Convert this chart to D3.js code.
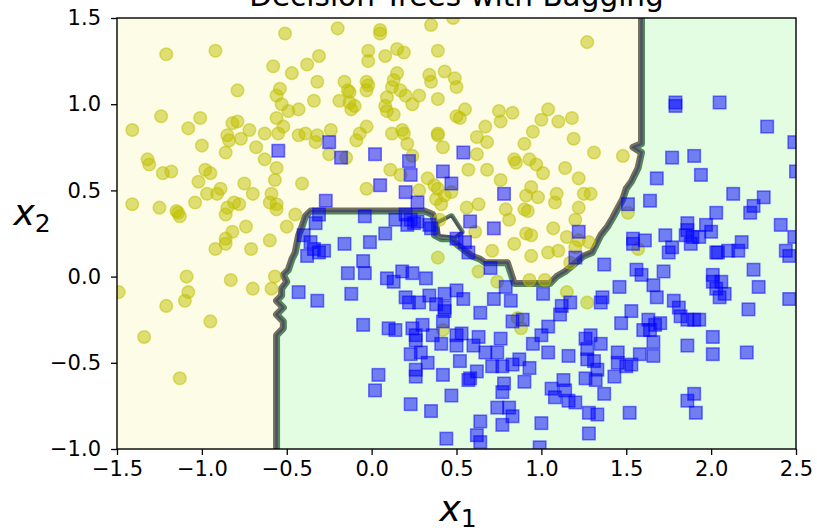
<!DOCTYPE html>
<html>
<head>
<meta charset="utf-8">
<script src="https://cdn.jsdelivr.net/npm/d3@7"></script>
<style>
  body { margin: 0; background: #ffffff; }
  svg text { font-family: "DejaVu Sans", sans-serif; fill: #000; }
</style>
</head>
<body>
<svg id="chart" width="817" height="530"></svg>
<script>
// Axis ticks
const xTicks = [-1.5, -1.0, -0.5, 0.0, 0.5, 1.0, 1.5, 2.0, 2.5];
const yTicks = [-1.0, -0.5, 0.0, 0.5, 1.0, 1.5];

// Class 0 samples (yellow circles)
const classA = [
  [-0.51,1.41],[-0.20,1.44],[-1.21,1.29],[-0.92,1.31],[-0.58,1.22],[-0.47,1.18],[-0.38,1.23],[-0.31,1.28],[-0.32,1.13],[-0.79,1.08],
  [-0.54,1.09],[-0.56,1.05],[-0.53,1.00],[-0.49,0.96],[-0.43,0.97],[-0.34,1.02],[-0.19,1.02],[-1.24,0.93],[-1.01,0.92],[-1.08,0.86],
  [-1.41,0.85],[-0.82,0.89],[-0.79,0.90],[-0.56,0.92],[-0.52,0.87],[-0.55,0.83],[-0.72,0.85],[-0.63,0.83],[-0.85,0.82],[-0.84,0.79],
  [-0.77,0.80],[-1.00,0.76],[-0.68,0.75],[-0.86,0.72],[-0.43,0.82],[-0.39,0.83],[-0.32,0.82],[-0.33,0.78],[-0.24,0.85],[-0.25,0.71],
  [-1.32,0.68],[-1.31,0.65],[-0.63,0.68],
  [0.05,1.43],[0.05,1.41],[0.35,1.46],[0.48,1.50],[-0.02,1.31],[-0.02,1.25],[0.08,1.28],[0.15,1.32],[0.19,1.30],[0.39,1.31],
  [-0.16,1.13],[-0.14,1.08],[-0.13,1.07],[-0.13,1.01],[-0.10,0.99],[-0.12,0.97],[-0.03,1.13],[-0.02,1.11],[-0.03,1.08],
  [0.15,1.18],[0.13,1.14],[0.12,1.10],[0.17,1.08],[0.20,1.05],[0.09,1.04],[0.08,0.99],[0.09,0.96],[0.13,0.94],[0.24,1.00],[0.28,1.05],
  [0.34,1.17],[0.35,1.13],[0.43,1.19],[0.49,1.15],[0.50,1.10],[0.39,1.03],[0.55,0.97],[0.50,0.93],[0.52,0.92],[0.75,0.96],[0.83,0.95],
  [0.76,0.90],[1.04,0.97],[1.00,0.91],[1.10,0.90],[0.95,0.84],[0.90,0.77],[0.67,0.87],[0.62,0.81],[0.68,0.78],[0.62,0.71],
  [-0.03,0.87],[-0.07,0.83],[-0.09,0.79],[0.12,0.83],[0.18,0.85],[0.19,0.83],[0.21,0.77],[0.24,0.70],[0.39,0.83],[0.39,0.82],[0.42,0.75],
  [-0.15,0.69],[0.84,0.68],[0.85,0.66],[0.93,0.68],
  [1.27,1.36],[1.18,0.92],[1.19,0.80],[1.31,0.72],[1.48,0.70],
  [-1.23,0.60],[-1.18,0.61],[-1.02,0.55],[-0.98,0.62],[-0.95,0.60],[-0.56,0.63],[-0.57,0.56],[-0.41,0.54],[-0.75,0.54],[-0.70,0.48],
  [-0.97,0.48],[-0.91,0.48],[-0.89,0.51],[-1.41,0.42],[-1.25,0.40],[-1.15,0.38],[-1.14,0.37],[-1.13,0.35],[-1.04,0.43],[-0.85,0.40],
  [-0.86,0.36],[-0.81,0.43],[-0.78,0.42],[-0.59,0.48],[-0.60,0.43],[-0.56,0.42],[-0.56,0.39],[-0.45,0.36],[-0.50,0.29],[-0.74,0.29],
  [-0.82,0.26],[-0.86,0.22],[-0.86,0.19],[-0.92,0.16],[-0.71,0.16],[-0.60,0.21],[-1.09,0.00],[-0.83,-0.02],[-1.08,-0.09],[-1.10,-0.14],
  [-0.70,-0.07],[-0.59,-0.07],[-0.57,0.00],[-1.49,-0.09],[-1.21,-0.17],
  [0.11,0.62],[0.17,0.59],[0.33,0.57],[0.37,0.53],[0.39,0.51],[0.43,0.47],[0.38,0.45],[0.41,0.42],[0.47,0.49],[0.28,0.50],[-0.03,0.51],
  [0.57,0.62],[0.68,0.62],[0.97,0.65],[1.01,0.60],[0.76,0.56],[0.94,0.52],[0.91,0.47],[0.98,0.46],[1.09,0.48],[1.08,0.43],
  [0.63,0.42],[0.56,0.40],[0.79,0.39],[0.81,0.33],[0.90,0.39],[0.92,0.38],[1.07,0.28],[0.91,0.25],[0.94,0.24],[0.61,0.26],
  [0.84,0.19],[0.71,0.15],[0.94,0.12],[1.04,0.14],[1.10,0.15],[0.39,0.11],[0.63,0.03],[0.74,-0.03],[0.93,-0.02],[1.02,-0.02],[0.40,0.33],
  [1.14,0.63],[1.22,0.57],[1.25,0.48],[1.29,0.48],[1.22,0.40],[1.20,0.33],[1.51,0.37],[1.15,0.23],[1.22,0.21],[1.28,0.20],[1.20,0.17],
  [1.57,0.16],[1.15,-0.09],[1.27,-0.15],[1.17,0.08],
  [-0.95,-0.26],[-1.34,-0.35],[-1.13,-0.59],
  [0.42,-0.31],[0.86,-0.24],[0.88,-0.30]
];

// Class 1 samples (blue squares)
const classB = [
  [-0.55,0.73],[-0.25,0.78],[-0.18,0.69],[0.02,0.71],[0.22,0.67],[0.54,0.72],[1.79,1.01],[1.79,0.99],[2.05,1.01],[2.33,0.87],
  [2.49,0.78],[1.77,0.69],[1.90,0.70],[-0.27,0.44],[-0.31,0.36],[-0.33,0.31],[-0.40,0.24],[-0.36,0.20],[-0.34,0.16],[-0.28,0.15],
  [-0.38,0.12],[-0.31,0.14],[-0.43,-0.09],[-0.32,-0.14],[-0.16,0.19],[0.23,0.59],[0.42,0.61],[0.47,0.54],[0.05,0.53],[0.20,0.49],
  [0.27,0.43],[0.78,0.48],[-0.04,0.35],[0.14,0.33],[0.20,0.36],[0.23,0.33],[0.21,0.30],[0.25,0.31],[0.27,0.32],[0.34,0.30],
  [0.35,0.28],[0.58,0.32],[0.72,0.28],[0.08,0.25],[-0.01,0.20],[0.50,0.22],[0.55,0.20],[0.57,0.14],[-0.05,0.09],[-0.14,0.02],
  [-0.04,0.02],[0.09,-0.01],[0.13,-0.03],[0.18,0.03],[0.24,0.02],[0.32,-0.01],[0.70,0.05],[0.79,-0.06],[-0.12,-0.10],[0.20,-0.12],
  [0.22,-0.15],[0.28,-0.15],[0.34,-0.11],[0.43,-0.10],[0.50,-0.08],[0.54,-0.13],[0.38,-0.16],[0.43,-0.18],[0.43,-0.20],[0.64,-0.21],
  [0.72,-0.13],[0.82,-0.14],[1.01,-0.10],[1.12,-0.17],[1.11,-0.22],[-0.05,-0.28],[0.10,-0.30],[0.14,-0.31],[0.24,-0.30],[0.30,-0.28],
  [0.42,-0.26],[0.83,-0.26],[0.89,-0.25],[0.26,-0.34],[0.26,-0.37],[0.23,-0.45],[0.29,-0.44],[0.33,-0.50],[0.26,-0.54],[0.26,-0.58],
  [0.42,-0.57],[0.47,-0.69],[0.23,-0.74],[0.35,-0.78],[0.52,-0.49],[0.04,-0.57],[0.02,-0.66],[0.36,-0.34],[0.41,-0.39],[0.50,-0.40],
  [0.50,-0.34],[0.53,-0.33],[0.60,-0.40],[0.63,-0.35],[0.67,-0.44],[0.74,-0.44],[0.76,-0.36],[0.71,-0.52],[0.77,-0.52],[0.83,-0.51],
  [0.87,-0.48],[0.93,-0.53],[0.90,-0.61],[0.62,-0.55],[0.58,-0.59],[0.57,-0.60],[0.78,-0.62],[0.77,-0.67],[0.74,-0.76],[0.81,-0.76],
  [0.83,-0.81],[0.77,-0.86],[0.64,-0.84],[0.62,-0.92],[0.64,-0.96],[0.44,-0.94],[1.00,-0.85],[1.04,-0.29],[1.00,-0.34],[0.95,-0.39],
  [1.04,-0.44],[1.06,-0.65],[1.08,-0.70],[0.99,-0.99],
  [1.94,0.59],[1.68,0.57],[1.64,0.44],[1.51,0.42],[2.13,0.48],[2.31,0.46],[2.25,0.41],[2.23,0.37],[2.50,0.61],[2.03,0.37],
  [2.41,0.30],[2.49,0.23],[1.86,0.31],[1.86,0.27],[1.85,0.24],[1.89,0.23],[1.88,0.19],[1.93,0.23],[1.97,0.30],[2.00,0.26],
  [1.73,0.24],[1.54,0.22],[1.54,0.19],[1.61,0.21],[1.77,0.17],[1.75,0.14],[2.18,0.20],[2.16,0.15],[2.10,0.15],[2.03,0.14],
  [2.04,0.14],[2.44,0.15],[2.46,0.12],[1.22,0.26],[1.20,0.11],[1.37,0.07],[1.56,0.04],[1.59,0.01],[1.72,0.03],[2.25,0.04],
  [2.01,0.01],[2.01,-0.03],[2.06,-0.03],[2.03,-0.07],[2.08,-0.10],[2.05,-0.12],[2.28,-0.06],[1.66,-0.05],[1.68,-0.12],[1.46,-0.06],
  [1.36,-0.12],[1.35,-0.15],[1.78,-0.14],[1.17,-0.15],[2.46,-0.13],[2.22,-0.19],[1.81,-0.18],[1.82,-0.23],[1.86,-0.25],[1.90,-0.25],
  [1.93,-0.25],[1.53,-0.20],[1.47,-0.27],[1.63,-0.25],[1.60,-0.31],[1.64,-0.31],[1.67,-0.28],[1.70,-0.27],[1.66,-0.38],[1.66,-0.46],
  [1.58,-0.45],[1.26,-0.36],[1.29,-0.34],[1.35,-0.39],[1.27,-0.42],[1.27,-0.48],[1.31,-0.49],[1.33,-0.54],[1.32,-0.60],[1.26,-0.59],
  [1.37,-0.68],[1.28,-0.79],[1.33,-0.80],[1.28,-0.91],[1.16,-0.46],[1.45,-0.44],[1.45,-0.50],[1.50,-0.52],[1.53,-0.51],[1.43,-0.58],
  [1.86,-0.40],[2.01,-0.35],[2.01,-0.45],[2.21,-0.44],[1.13,-0.60],[1.14,-0.66],[1.16,-0.72],[1.20,-0.73],[1.52,-0.79],[1.90,-0.68],
  [1.86,-0.72],[1.91,-0.79]
];

// Decision boundary of the bagged trees, traced from bottom to top
const boundary = [
  [-0.56,-1.05],[-0.56,-0.34],[-0.52,-0.30],[-0.52,-0.26],[-0.56,-0.22],[-0.52,-0.18],[-0.56,-0.14],[-0.53,-0.11],
  [-0.53,-0.07],[-0.50,-0.03],[-0.52,0.01],[-0.49,0.04],[-0.47,0.10],[-0.45,0.14],[-0.43,0.24],[-0.41,0.29],
  [-0.39,0.35],[-0.36,0.38],[0.31,0.38],[0.36,0.36],[0.37,0.32],[0.37,0.24],[0.41,0.22],[0.47,0.22],
  [0.51,0.18],[0.55,0.15],[0.59,0.12],[0.64,0.10],[0.67,0.08],[0.80,0.08],[0.82,0.02],[0.84,-0.04],
  [1.05,-0.04],[1.09,0.00],[1.14,0.03],[1.19,0.07],[1.25,0.12],[1.30,0.14],[1.35,0.24],[1.39,0.29],
  [1.42,0.34],[1.48,0.45],[1.50,0.51],[1.53,0.55],[1.57,0.63],[1.59,0.72],[1.54,0.75],[1.59,0.77],[1.59,1.55]
];
// Small class-0 pocket inside the class-1 region
const pocket = [[0.39,0.31],[0.47,0.35],[0.53,0.26],[0.49,0.23],[0.40,0.24]];

const svg = d3.select("#chart");
const x = d3.scaleLinear().domain([-1.5, 2.5]).range([117, 796]);
const y = d3.scaleLinear().domain([-1.0, 1.5]).range([449, 18]);
const line = d3.line().x(d => x(d[0])).y(d => y(d[1]));

const greenPoly = boundary.concat([[2.6, 1.55], [2.6, -1.05]]);
const yellowPoly = boundary.concat([[-1.6, 1.55], [-1.6, -1.05]]);

const defs = svg.append("defs");
defs.append("clipPath").attr("id", "plotArea").append("rect")
  .attr("x", x(-1.5)).attr("y", y(1.5))
  .attr("width", x(2.5) - x(-1.5)).attr("height", y(-1.0) - y(1.5));
defs.append("clipPath").attr("id", "greenSide").append("path").attr("d", line(greenPoly) + "Z");
defs.append("clipPath").attr("id", "yellowSide").append("path").attr("d", line(yellowPoly) + "Z");

const plot = svg.append("g").attr("clip-path", "url(#plotArea)");

// filled decision regions
plot.append("rect")
  .attr("x", x(-1.5)).attr("y", y(1.5))
  .attr("width", x(2.5) - x(-1.5)).attr("height", y(-1.0) - y(1.5))
  .attr("fill", "#fdfde7");
plot.append("path").attr("d", line(greenPoly) + "Z").attr("fill", "#e2fde2");

// contour band: olive on the class-0 side, green on the class-1 side, dark core
plot.append("g").attr("clip-path", "url(#yellowSide)")
  .append("path").attr("d", line(boundary))
  .attr("fill", "none").attr("stroke", "#72725c").attr("stroke-width", 7).attr("stroke-linejoin", "round");
plot.append("g").attr("clip-path", "url(#greenSide)")
  .append("path").attr("d", line(boundary))
  .attr("fill", "none").attr("stroke", "#55855a").attr("stroke-width", 7).attr("stroke-linejoin", "round");
plot.append("path").attr("d", line(boundary))
  .attr("fill", "none").attr("stroke", "#4e5066").attr("stroke-width", 2.5).attr("stroke-linejoin", "round");

plot.append("path").attr("d", line(pocket) + "Z")
  .attr("fill", "none").attr("stroke", "#55855a").attr("stroke-width", 6).attr("stroke-linejoin", "round");
plot.append("path").attr("d", line(pocket) + "Z")
  .attr("fill", "#fdfde7").attr("stroke", "#4e5066").attr("stroke-width", 2.5).attr("stroke-linejoin", "round");

// samples
plot.append("g").selectAll("circle").data(classA).join("circle")
  .attr("cx", d => x(d[0])).attr("cy", d => y(d[1])).attr("r", 6.3)
  .attr("fill", "rgb(191,191,0)").attr("fill-opacity", 0.5)
  .attr("stroke", "rgb(191,191,0)").attr("stroke-opacity", 0.5).attr("stroke-width", 1.5);

const side = 12.5;
plot.append("g").selectAll("rect").data(classB).join("rect")
  .attr("x", d => x(d[0]) - side / 2).attr("y", d => y(d[1]) - side / 2)
  .attr("width", side).attr("height", side)
  .attr("fill", "rgb(0,0,255)").attr("fill-opacity", 0.5)
  .attr("stroke", "rgb(0,0,255)").attr("stroke-opacity", 0.5).attr("stroke-width", 1.5);

// axes
const fmt = d3.format(".1f");
const xAxis = svg.append("g").attr("transform", `translate(0,${y(-1.0)})`)
  .call(d3.axisBottom(x).tickValues(xTicks).tickFormat(fmt).tickSize(6).tickPadding(6).tickSizeOuter(0));
const yAxis = svg.append("g").attr("transform", `translate(${x(-1.5)},0)`)
  .call(d3.axisLeft(y).tickValues(yTicks).tickFormat(fmt).tickSize(6).tickPadding(10).tickSizeOuter(0));
[xAxis, yAxis].forEach(g => {
  g.select(".domain").remove();
  g.selectAll(".tick line").attr("stroke", "#000").attr("stroke-width", 1.3);
  g.selectAll(".tick text").attr("font-size", 21).attr("font-family", "DejaVu Sans").attr("fill", "#000");
});

// frame
svg.append("rect")
  .attr("x", x(-1.5)).attr("y", y(1.5))
  .attr("width", x(2.5) - x(-1.5)).attr("height", y(-1.0) - y(1.5))
  .attr("fill", "none").attr("stroke", "#000").attr("stroke-width", 1.4);

// title and axis labels
svg.append("text").attr("x", (x(-1.5) + x(2.5)) / 2).attr("y", 6)
  .attr("text-anchor", "middle").attr("font-size", 29.5).text("Decision Trees with Bagging");

const xl = svg.append("text").attr("x", 458).attr("y", 521).attr("text-anchor", "middle")
  .attr("font-size", 36);
xl.append("tspan").attr("font-style", "italic").text("x");
xl.append("tspan").attr("font-size", 25).attr("dy", 6).text("1");

const yl = svg.append("text").attr("x", 32).attr("y", 225).attr("text-anchor", "middle")
  .attr("font-size", 36);
yl.append("tspan").attr("font-style", "italic").text("x");
yl.append("tspan").attr("font-size", 25).attr("dy", 7).text("2");
</script>
</body>
</html>
